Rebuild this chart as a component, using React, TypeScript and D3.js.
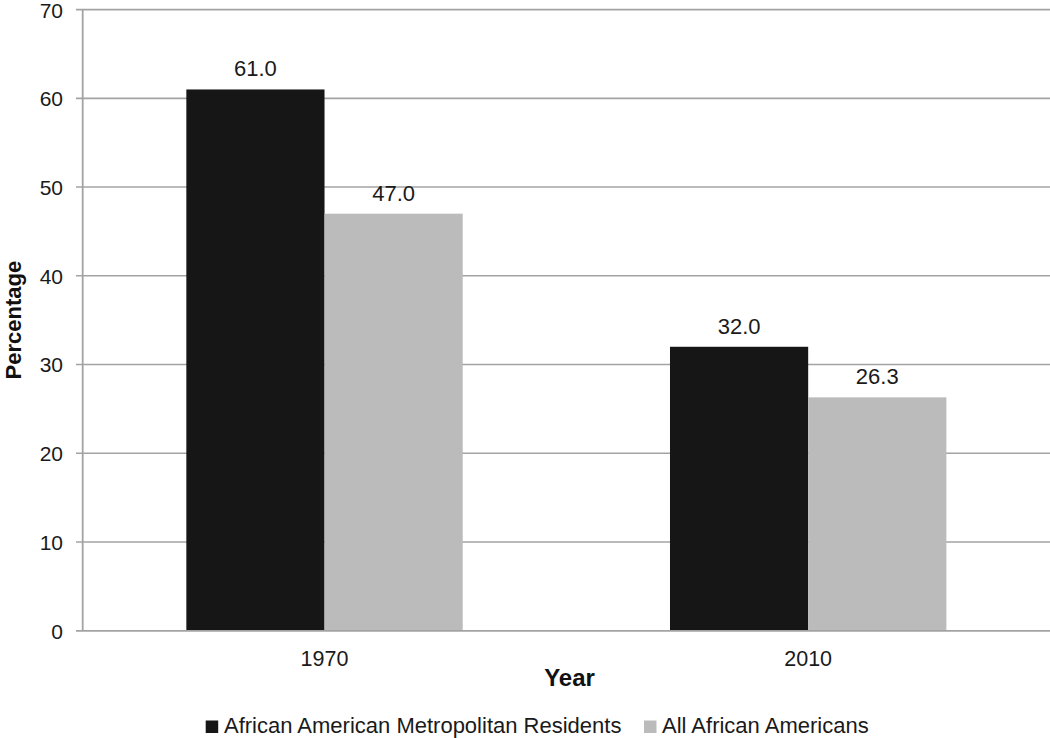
import React from "react";
import * as d3 from "d3";

const years = ["1970", "2010"];
const seriesNames = ["African American Metropolitan Residents", "All African Americans"];
const seriesColors = ["#161616", "#bbbbbb"];
const metroValues = [61.0, 32.0];
const allValues = [47.0, 26.3];
const yTicks = [0, 10, 20, 30, 40, 50, 60, 70];

const width = 1050;
const height = 738;
const margin = { top: 9.6, right: 0, bottom: 107.3, left: 82.7 };
const font = "'Liberation Sans', Arial, Helvetica, sans-serif";

const App = () => {
  const x = d3
    .scaleBand()
    .domain(years)
    .range([margin.left, width - margin.right])
    .paddingInner(0)
    .paddingOuter(0);

  // two bars per year, centred in the band
  const inner = d3
    .scaleBand()
    .domain(seriesNames)
    .range([0, x.bandwidth()])
    .paddingInner(0)
    .paddingOuter(0.75);

  const y = d3
    .scaleLinear()
    .domain([0, 70])
    .range([height - margin.bottom, margin.top]);

  const rows = years.map((yr, i) => ({
    year: yr,
    values: [metroValues[i], allValues[i]],
  }));

  const gridColor = "#a3a3a3";

  return (
    <svg
      width={width}
      height={height}
      style={{ position: "absolute", left: 0, top: 0, background: "#fff" }}
      fontFamily={font}
    >
      {/* gridlines + y ticks */}
      <g className="yAxis">
        {yTicks.map((t) => (
          <g key={t}>
            <line x1={76} x2={width} y1={y(t)} y2={y(t)} stroke={gridColor} strokeWidth={1.6} />
            <text x={63} y={y(t)} dy="0.38em" textAnchor="end" fontSize={21} fill="#1a1a1a">
              {t}
            </text>
          </g>
        ))}
        <line
          x1={margin.left}
          x2={margin.left}
          y1={y(70)}
          y2={y(0)}
          stroke={gridColor}
          strokeWidth={1.8}
        />
      </g>

      {/* bars */}
      {rows.map((r) => (
        <g key={r.year} transform={`translate(${x(r.year)},0)`}>
          {r.values.map((v, j) => (
            <g key={j}>
              <rect
                x={inner(seriesNames[j])}
                y={y(v)}
                width={inner.bandwidth()}
                height={y(0) - y(v)}
                fill={seriesColors[j]}
              />
              <text
                x={(inner(seriesNames[j]) || 0) + inner.bandwidth() / 2}
                y={y(v) - 13}
                textAnchor="middle"
                fontSize={22}
                fill="#1a1a1a"
              >
                {v.toFixed(1)}
              </text>
            </g>
          ))}
          <text
            x={x.bandwidth() / 2}
            y={666}
            textAnchor="middle"
            fontSize={21.5}
            fill="#1a1a1a"
          >
            {r.year}
          </text>
        </g>
      ))}
      {/* baseline over the bars */}
      <line x1={76} x2={width} y1={y(0)} y2={y(0)} stroke={gridColor} strokeWidth={1.6} />

      {/* axis titles */}
      <text x={569.5} y={686} textAnchor="middle" fontSize={24} fontWeight="bold" fill="#111">
        Year
      </text>
      <text
        transform={`translate(21,${(y(0) + y(70)) / 2}) rotate(-90)`}
        textAnchor="middle"
        fontSize={22}
        fontWeight="bold"
        fill="#111"
      >
        Percentage
      </text>

      {/* legend */}
      <g className="legend">
        <rect x={205.7} y={720.5} width={12.5} height={12.5} fill={seriesColors[0]} />
        <text x={224} y={733} fontSize={22} fill="#1a1a1a">
          {seriesNames[0]}
        </text>
        <rect x={644} y={720.5} width={12.5} height={12.5} fill={seriesColors[1]} />
        <text x={662} y={733} fontSize={22} fill="#1a1a1a">
          {seriesNames[1]}
        </text>
      </g>
    </svg>
  );
};

export default App;
